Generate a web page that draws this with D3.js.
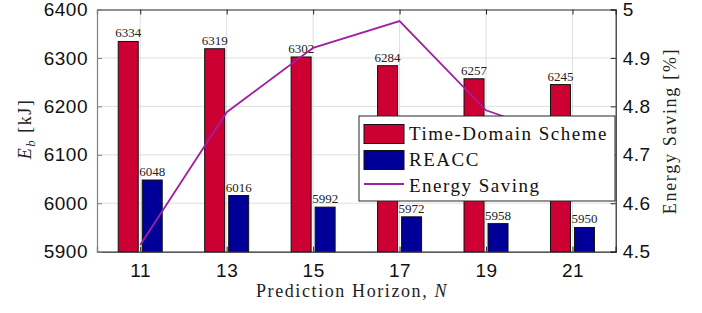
<!DOCTYPE html>
<html>
<head>
<meta charset="utf-8">
<script src="https://cdn.jsdelivr.net/npm/d3@7"></script>
<style>
body { margin: 0; background: #fff; }
</style>
</head>
<body>
<script>
// data
var horizons = [11, 13, 15, 17, 19, 21];
var timeDomain = [6334, 6319, 6302, 6284, 6257, 6245];
var reacc = [6048, 6016, 5992, 5972, 5958, 5950];
var saving = [4.514, 4.788, 4.921, 4.976, 4.792, 4.73];
var leftTicks = [5900, 6000, 6100, 6200, 6300, 6400];
var rightTicks = [4.5, 4.6, 4.7, 4.8, 4.9, 5];

var W = 702, H = 313;
var pLeft = 97, pRight = 615.7, pTop = 9.5, pBottom = 251.7;

var svg = d3.select("body").append("svg")
    .attr("width", W)
    .attr("height", H);

var x = d3.scaleLinear().domain([10, 22]).range([pLeft, pRight]);
var y = d3.scaleLinear().domain([5900, 6400]).range([pBottom, pTop]);
var y2 = d3.scaleLinear().domain([4.5, 5]).range([pBottom, pTop]);

var serif = "'Liberation Serif', 'Times New Roman', serif";
var sans = "'Liberation Sans', Arial, sans-serif";

// grid
svg.append("g").selectAll("line")
    .data(leftTicks.slice(1, -1))
    .enter().append("line")
    .attr("x1", pLeft).attr("x2", pRight)
    .attr("y1", function(d) { return y(d); })
    .attr("y2", function(d) { return y(d); })
    .attr("stroke", "#dfdfdf").attr("stroke-width", 1);

svg.append("g").selectAll("line")
    .data(horizons)
    .enter().append("line")
    .attr("x1", function(d) { return x(d); })
    .attr("x2", function(d) { return x(d); })
    .attr("y1", pTop).attr("y2", pBottom)
    .attr("stroke", "#dfdfdf").attr("stroke-width", 1);

var bw = 20, off = 12;

// bars
svg.append("g").selectAll("rect")
    .data(horizons)
    .enter().append("rect")
    .attr("x", function(d) { return x(d) - off - bw / 2; })
    .attr("y", function(d, i) { return y(timeDomain[i]); })
    .attr("width", bw)
    .attr("height", function(d, i) { return pBottom - y(timeDomain[i]); })
    .attr("fill", "#cc0033")
    .attr("stroke", "#111").attr("stroke-width", 1);

svg.append("g").selectAll("rect")
    .data(horizons)
    .enter().append("rect")
    .attr("x", function(d) { return x(d) + off - bw / 2; })
    .attr("y", function(d, i) { return y(reacc[i]); })
    .attr("width", bw)
    .attr("height", function(d, i) { return pBottom - y(reacc[i]); })
    .attr("fill", "#000099")
    .attr("stroke", "#111").attr("stroke-width", 1);

// value labels
svg.append("g").selectAll("text")
    .data(horizons)
    .enter().append("text")
    .attr("x", function(d) { return x(d) - off; })
    .attr("y", function(d, i) { return y(timeDomain[i]) - 4; })
    .attr("text-anchor", "middle")
    .attr("font-family", serif).attr("font-size", 13)
    .attr("fill", "#222")
    .text(function(d, i) { return timeDomain[i]; });

svg.append("g").selectAll("text")
    .data(horizons)
    .enter().append("text")
    .attr("x", function(d) { return x(d) + off; })
    .attr("y", function(d, i) { return y(reacc[i]) - 4; })
    .attr("text-anchor", "middle")
    .attr("font-family", serif).attr("font-size", 13)
    .attr("fill", "#222")
    .text(function(d, i) { return reacc[i]; });

// energy saving line
var line = d3.line()
    .x(function(d, i) { return x(horizons[i]); })
    .y(function(d) { return y2(d); });

svg.append("path")
    .datum(saving)
    .attr("d", line)
    .attr("fill", "none")
    .attr("stroke", "#a020a0")
    .attr("stroke-width", 1.8);

// axes
var xAxis = svg.append("g")
    .attr("transform", "translate(0," + pBottom + ")")
    .call(d3.axisBottom(x).tickValues(horizons).tickSize(-5).tickPadding(12));
var xTop = svg.append("g")
    .attr("transform", "translate(0," + pTop + ")")
    .call(d3.axisTop(x).tickValues(horizons).tickSize(-5).tickFormat(""));
var yAxis = svg.append("g")
    .attr("transform", "translate(" + pLeft + ",0)")
    .call(d3.axisLeft(y).tickValues(leftTicks).tickSize(-5).tickPadding(9)
        .tickFormat(d3.format("d")));
var yAxis2 = svg.append("g")
    .attr("transform", "translate(" + pRight + ",0)")
    .call(d3.axisRight(y2).tickValues(rightTicks).tickSize(-5).tickPadding(7)
        .tickFormat(function(d) { return d3.format("")(d); }));

[xAxis, xTop, yAxis2].forEach(function(g) {
  g.select(".domain").attr("stroke", "#262626").attr("stroke-width", 1.2);
  g.selectAll(".tick line").attr("stroke", "#262626");
});
yAxis.select(".domain").attr("stroke", "#808080").attr("stroke-width", 1.2);
yAxis.selectAll(".tick line").attr("stroke", "#808080");

[xAxis, yAxis, yAxis2].forEach(function(g) {
  g.selectAll(".tick text")
    .attr("font-family", sans).attr("font-size", 19)
    .attr("letter-spacing", 0.5).attr("fill", "#111");
});

// axis titles
svg.append("text")
    .attr("x", 352).attr("y", 297)
    .attr("text-anchor", "middle")
    .attr("font-family", serif).attr("font-size", 18)
    .attr("letter-spacing", 1.6)
    .attr("fill", "#222")
    .html("Prediction Horizon, <tspan font-style='italic'>N</tspan>");

var yl = svg.append("text")
    .attr("transform", "translate(31,129) rotate(-90)")
    .attr("text-anchor", "middle")
    .attr("font-family", serif).attr("font-size", 18)
    .attr("letter-spacing", 1.5)
    .attr("fill", "#222");
yl.append("tspan").attr("font-style", "italic").text("E");
yl.append("tspan").attr("font-style", "italic").attr("font-size", 13).attr("dy", 4).text("b");
yl.append("tspan").attr("dy", -4).text(" [kJ]");

svg.append("text")
    .attr("transform", "translate(676,131) rotate(-90)")
    .attr("text-anchor", "middle")
    .attr("font-family", serif).attr("font-size", 18)
    .attr("letter-spacing", 1.7)
    .attr("fill", "#222")
    .text("Energy Saving [%]");

// legend
var lg = svg.append("g").attr("transform", "translate(359,116)");
lg.append("rect")
    .attr("width", 256).attr("height", 85)
    .attr("fill", "#fff").attr("stroke", "#262626").attr("stroke-width", 1);

var legendItems = [
  { name: "Time-Domain Scheme", color: "#cc0033", type: "bar" },
  { name: "REACC", color: "#000099", type: "bar" },
  { name: "Energy Saving", color: "#a020a0", type: "line" }
];

legendItems.forEach(function(d, i) {
  var cy = 18 + i * 26;
  if (d.type == "bar") {
    lg.append("rect")
      .attr("x", 5).attr("y", cy - 9.5)
      .attr("width", 40).attr("height", 19)
      .attr("fill", d.color).attr("stroke", "#111").attr("stroke-width", 1);
  } else {
    lg.append("line")
      .attr("x1", 5).attr("x2", 45)
      .attr("y1", cy - 2).attr("y2", cy - 2)
      .attr("stroke", d.color).attr("stroke-width", 1.8);
  }
  lg.append("text")
    .attr("x", 50).attr("y", cy + 6)
    .attr("font-family", serif).attr("font-size", 19)
    .attr("letter-spacing", 1.5)
    .attr("fill", "#111")
    .text(d.name);
});
</script>
</body>
</html>
